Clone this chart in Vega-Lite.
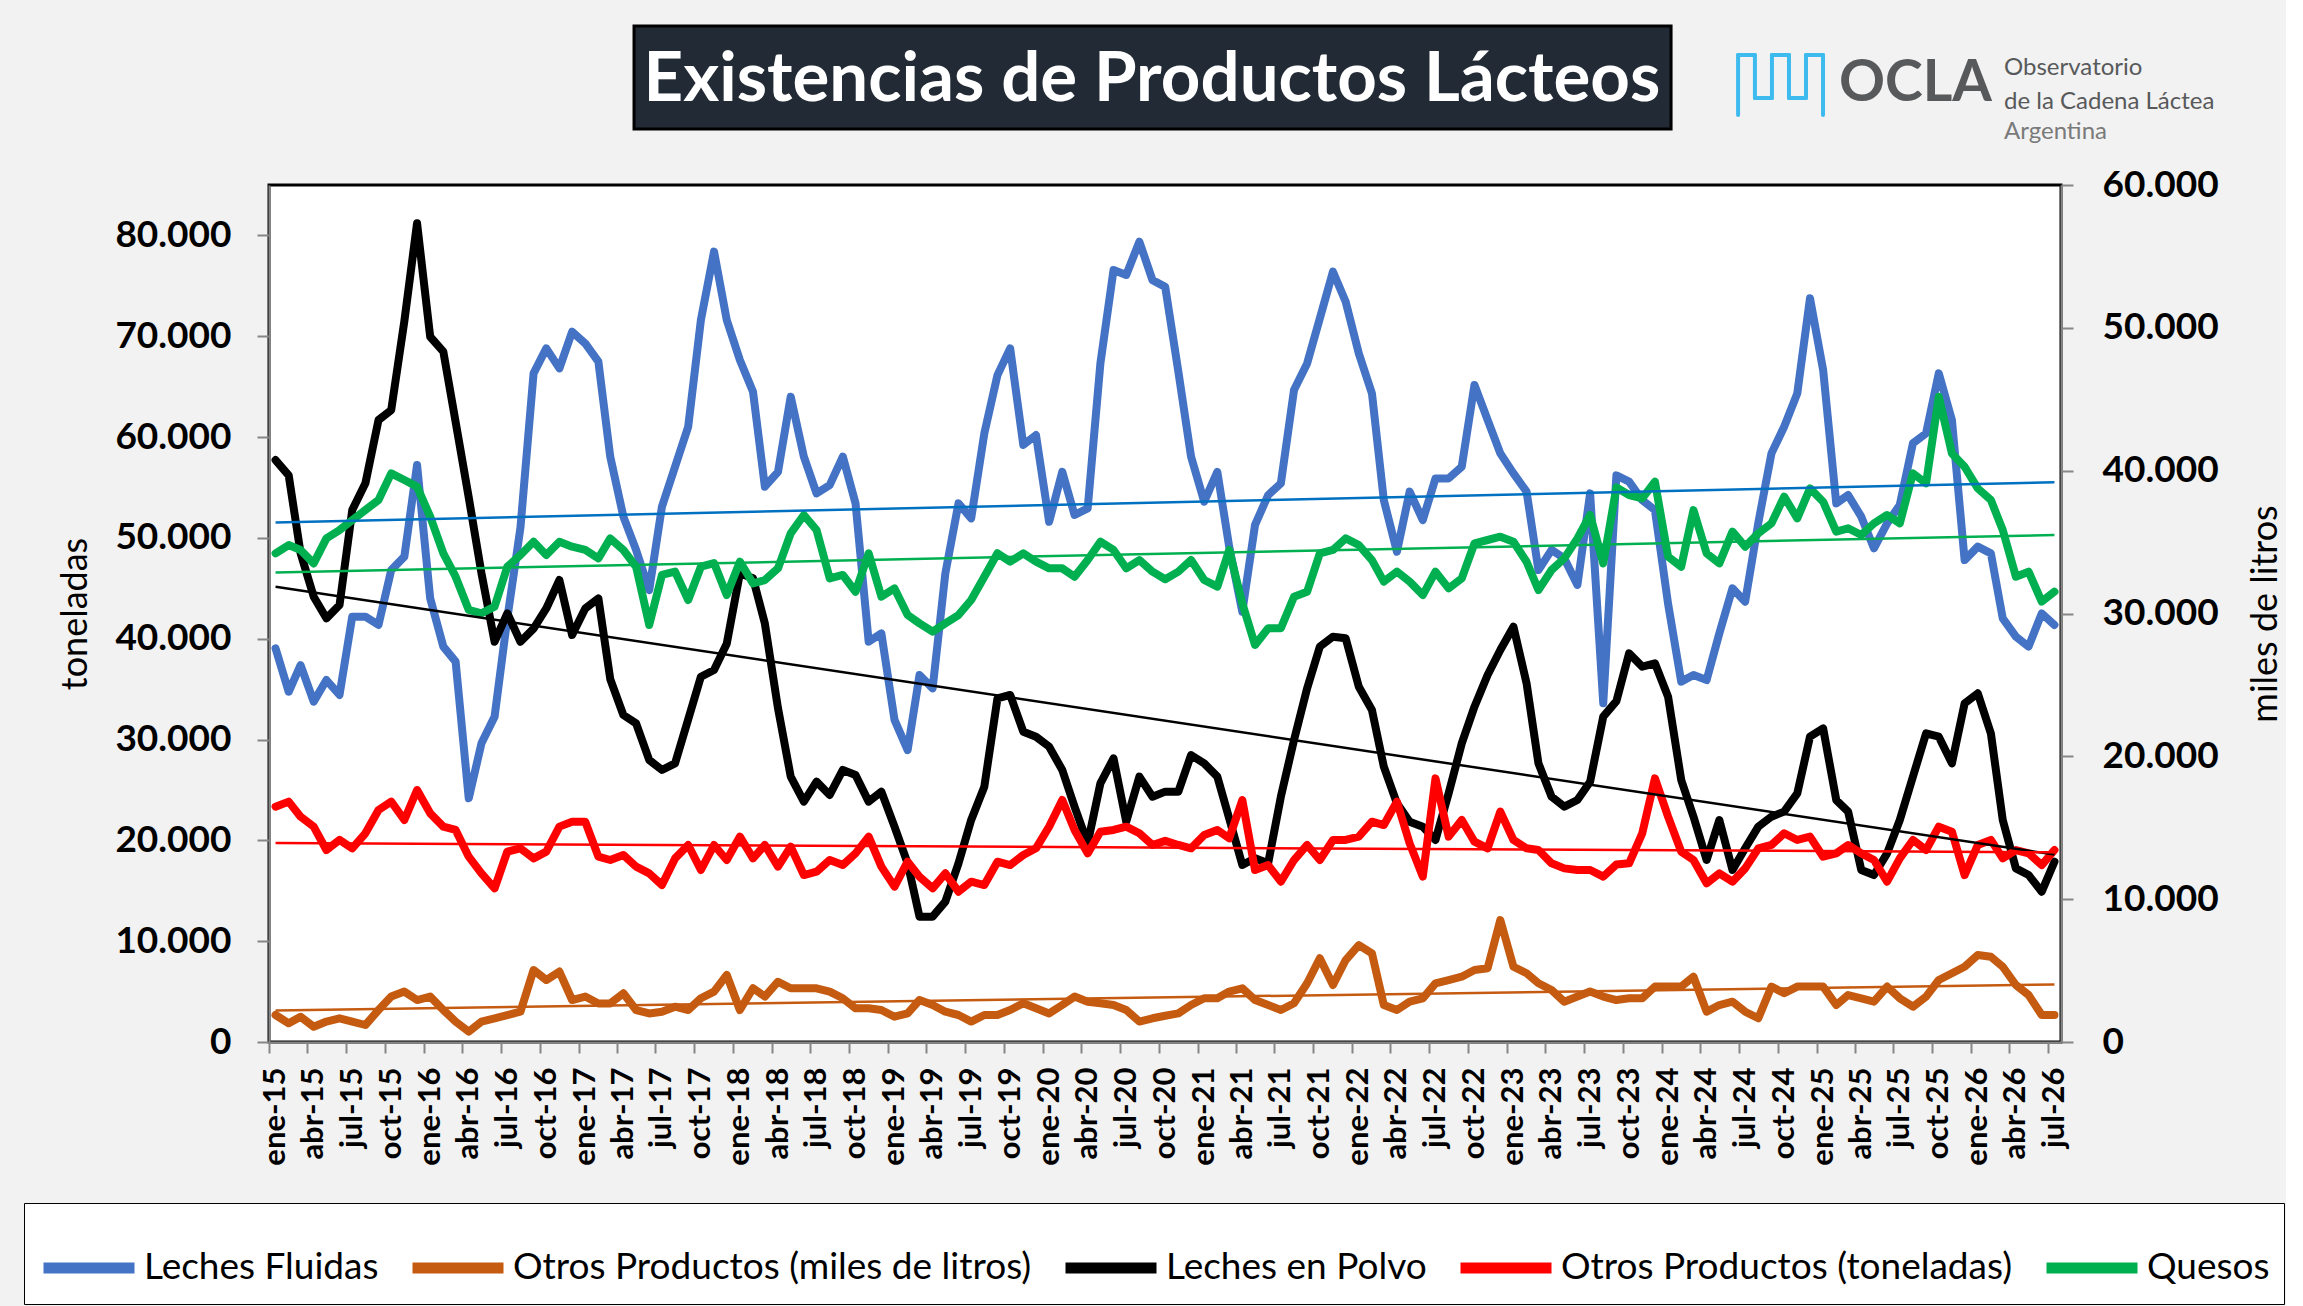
{
  "$schema": "https://vega.github.io/schema/vega-lite/v6.json",
  "description": "Existencias de Productos Lácteos (OCLA), mensual ene-15 a jul-26, dos ejes.",
  "background": "#F2F2F2",
  "padding": {"left": 22, "top": 0, "right": 0, "bottom": 0},
  "bounds": "flush",
  "spacing": 0,
  "datasets": {
    "fluidas": [
      {"mes":"2015/01/01","valor":27560},{"mes":"2015/02/01","valor":24520},{"mes":"2015/03/01","valor":26390},{"mes":"2015/04/01","valor":23830},{"mes":"2015/05/01","valor":25340},{"mes":"2015/06/01","valor":24300},{"mes":"2015/07/01","valor":29780},{"mes":"2015/08/01","valor":29780},{"mes":"2015/09/01","valor":29200},{"mes":"2015/10/01","valor":33040},{"mes":"2015/11/01","valor":33980},{"mes":"2015/12/01","valor":40400},
      {"mes":"2016/01/01","valor":31060},{"mes":"2016/02/01","valor":27680},{"mes":"2016/03/01","valor":26630},{"mes":"2016/04/01","valor":17060},{"mes":"2016/05/01","valor":20910},{"mes":"2016/06/01","valor":22780},{"mes":"2016/07/01","valor":29650},{"mes":"2016/08/01","valor":36000},{"mes":"2016/09/01","valor":46810},{"mes":"2016/10/01","valor":48560},{"mes":"2016/11/01","valor":47160},{"mes":"2016/12/01","valor":49730},
      {"mes":"2017/01/01","valor":48910},{"mes":"2017/02/01","valor":47630},{"mes":"2017/03/01","valor":40980},{"mes":"2017/04/01","valor":36780},{"mes":"2017/05/01","valor":34450},{"mes":"2017/06/01","valor":31640},{"mes":"2017/07/01","valor":37480},{"mes":"2017/08/01","valor":40280},{"mes":"2017/09/01","valor":43080},{"mes":"2017/10/01","valor":50550},{"mes":"2017/11/01","valor":55340},{"mes":"2017/12/01","valor":50550},
      {"mes":"2018/01/01","valor":47750},{"mes":"2018/02/01","valor":45530},{"mes":"2018/03/01","valor":38880},{"mes":"2018/04/01","valor":39920},{"mes":"2018/05/01","valor":45180},{"mes":"2018/06/01","valor":40980},{"mes":"2018/07/01","valor":38410},{"mes":"2018/08/01","valor":38990},{"mes":"2018/09/01","valor":40980},{"mes":"2018/10/01","valor":37710},{"mes":"2018/11/01","valor":28030},{"mes":"2018/12/01","valor":28610},
      {"mes":"2019/01/01","valor":22550},{"mes":"2019/02/01","valor":20440},{"mes":"2019/03/01","valor":25690},{"mes":"2019/04/01","valor":24760},{"mes":"2019/05/01","valor":32810},{"mes":"2019/06/01","valor":37710},{"mes":"2019/07/01","valor":36660},{"mes":"2019/08/01","valor":42610},{"mes":"2019/09/01","valor":46690},{"mes":"2019/10/01","valor":48560},{"mes":"2019/11/01","valor":41800},{"mes":"2019/12/01","valor":42490},
      {"mes":"2020/01/01","valor":36420},{"mes":"2020/02/01","valor":39920},{"mes":"2020/03/01","valor":36900},{"mes":"2020/04/01","valor":37360},{"mes":"2020/05/01","valor":47510},{"mes":"2020/06/01","valor":54050},{"mes":"2020/07/01","valor":53700},{"mes":"2020/08/01","valor":56030},{"mes":"2020/09/01","valor":53340},{"mes":"2020/10/01","valor":52870},{"mes":"2020/11/01","valor":46930},{"mes":"2020/12/01","valor":40980},
      {"mes":"2021/01/01","valor":37830},{"mes":"2021/02/01","valor":39920},{"mes":"2021/03/01","valor":34680},{"mes":"2021/04/01","valor":30130},{"mes":"2021/05/01","valor":36200},{"mes":"2021/06/01","valor":38290},{"mes":"2021/07/01","valor":39110},{"mes":"2021/08/01","valor":45640},{"mes":"2021/09/01","valor":47510},{"mes":"2021/10/01","valor":50660},{"mes":"2021/11/01","valor":53930},{"mes":"2021/12/01","valor":51830},
      {"mes":"2022/01/01","valor":48210},{"mes":"2022/02/01","valor":45410},{"mes":"2022/03/01","valor":37940},{"mes":"2022/04/01","valor":34330},{"mes":"2022/05/01","valor":38530},{"mes":"2022/06/01","valor":36540},{"mes":"2022/07/01","valor":39460},{"mes":"2022/08/01","valor":39460},{"mes":"2022/09/01","valor":40280},{"mes":"2022/10/01","valor":46000},{"mes":"2022/11/01","valor":43550},{"mes":"2022/12/01","valor":41210},
      {"mes":"2023/01/01","valor":39810},{"mes":"2023/02/01","valor":38530},{"mes":"2023/03/01","valor":33040},{"mes":"2023/04/01","valor":34450},{"mes":"2023/05/01","valor":33860},{"mes":"2023/06/01","valor":32000},{"mes":"2023/07/01","valor":38410},{"mes":"2023/08/01","valor":23710},{"mes":"2023/09/01","valor":39670},{"mes":"2023/10/01","valor":39230},{"mes":"2023/11/01","valor":37940},{"mes":"2023/12/01","valor":37240},
      {"mes":"2024/01/01","valor":30680},{"mes":"2024/02/01","valor":25230},{"mes":"2024/03/01","valor":25690},{"mes":"2024/04/01","valor":25340},{"mes":"2024/05/01","valor":28610},{"mes":"2024/06/01","valor":31760},{"mes":"2024/07/01","valor":30830},{"mes":"2024/08/01","valor":36350},{"mes":"2024/09/01","valor":41210},{"mes":"2024/10/01","valor":43080},{"mes":"2024/11/01","valor":45410},{"mes":"2024/12/01","valor":52070},
      {"mes":"2025/01/01","valor":47050},{"mes":"2025/02/01","valor":37710},{"mes":"2025/03/01","valor":38290},{"mes":"2025/04/01","valor":36780},{"mes":"2025/05/01","valor":34560},{"mes":"2025/06/01","valor":36310},{"mes":"2025/07/01","valor":37600},{"mes":"2025/08/01","valor":41920},{"mes":"2025/09/01","valor":42610},{"mes":"2025/10/01","valor":46810},{"mes":"2025/11/01","valor":43550},{"mes":"2025/12/01","valor":33740},
      {"mes":"2026/01/01","valor":34680},{"mes":"2026/02/01","valor":34210},{"mes":"2026/03/01","valor":29660},{"mes":"2026/04/01","valor":28380},{"mes":"2026/05/01","valor":27680},{"mes":"2026/06/01","valor":30010},{"mes":"2026/07/01","valor":29200}
    ],
    "otros_litros": [
      {"mes":"2015/01/01","valor":1890},{"mes":"2015/02/01","valor":1310},{"mes":"2015/03/01","valor":1770},{"mes":"2015/04/01","valor":1070},{"mes":"2015/05/01","valor":1430},{"mes":"2015/06/01","valor":1660},{"mes":"2015/07/01","valor":1430},{"mes":"2015/08/01","valor":1190},{"mes":"2015/09/01","valor":2240},{"mes":"2015/10/01","valor":3180},{"mes":"2015/11/01","valor":3530},{"mes":"2015/12/01","valor":2940},
      {"mes":"2016/01/01","valor":3180},{"mes":"2016/02/01","valor":2240},{"mes":"2016/03/01","valor":1430},{"mes":"2016/04/01","valor":730},{"mes":"2016/05/01","valor":1430},{"mes":"2016/06/01","valor":1660},{"mes":"2016/07/01","valor":1890},{"mes":"2016/08/01","valor":2120},{"mes":"2016/09/01","valor":5040},{"mes":"2016/10/01","valor":4340},{"mes":"2016/11/01","valor":4930},{"mes":"2016/12/01","valor":2940},
      {"mes":"2017/01/01","valor":3180},{"mes":"2017/02/01","valor":2700},{"mes":"2017/03/01","valor":2700},{"mes":"2017/04/01","valor":3410},{"mes":"2017/05/01","valor":2240},{"mes":"2017/06/01","valor":2000},{"mes":"2017/07/01","valor":2120},{"mes":"2017/08/01","valor":2470},{"mes":"2017/09/01","valor":2240},{"mes":"2017/10/01","valor":3060},{"mes":"2017/11/01","valor":3530},{"mes":"2017/12/01","valor":4690},
      {"mes":"2018/01/01","valor":2240},{"mes":"2018/02/01","valor":3760},{"mes":"2018/03/01","valor":3180},{"mes":"2018/04/01","valor":4220},{"mes":"2018/05/01","valor":3760},{"mes":"2018/06/01","valor":3760},{"mes":"2018/07/01","valor":3760},{"mes":"2018/08/01","valor":3530},{"mes":"2018/09/01","valor":3060},{"mes":"2018/10/01","valor":2360},{"mes":"2018/11/01","valor":2360},{"mes":"2018/12/01","valor":2240},
      {"mes":"2019/01/01","valor":1770},{"mes":"2019/02/01","valor":2000},{"mes":"2019/03/01","valor":2940},{"mes":"2019/04/01","valor":2590},{"mes":"2019/05/01","valor":2120},{"mes":"2019/06/01","valor":1890},{"mes":"2019/07/01","valor":1430},{"mes":"2019/08/01","valor":1890},{"mes":"2019/09/01","valor":1890},{"mes":"2019/10/01","valor":2240},{"mes":"2019/11/01","valor":2710},{"mes":"2019/12/01","valor":2360},
      {"mes":"2020/01/01","valor":2000},{"mes":"2020/02/01","valor":2590},{"mes":"2020/03/01","valor":3180},{"mes":"2020/04/01","valor":2820},{"mes":"2020/05/01","valor":2710},{"mes":"2020/06/01","valor":2590},{"mes":"2020/07/01","valor":2240},{"mes":"2020/08/01","valor":1430},{"mes":"2020/09/01","valor":1660},{"mes":"2020/10/01","valor":1840},{"mes":"2020/11/01","valor":2000},{"mes":"2020/12/01","valor":2590},
      {"mes":"2021/01/01","valor":3060},{"mes":"2021/02/01","valor":3060},{"mes":"2021/03/01","valor":3530},{"mes":"2021/04/01","valor":3760},{"mes":"2021/05/01","valor":2940},{"mes":"2021/06/01","valor":2590},{"mes":"2021/07/01","valor":2240},{"mes":"2021/08/01","valor":2710},{"mes":"2021/09/01","valor":4110},{"mes":"2021/10/01","valor":5860},{"mes":"2021/11/01","valor":3990},{"mes":"2021/12/01","valor":5740},
      {"mes":"2022/01/01","valor":6790},{"mes":"2022/02/01","valor":6210},{"mes":"2022/03/01","valor":2590},{"mes":"2022/04/01","valor":2240},{"mes":"2022/05/01","valor":2820},{"mes":"2022/06/01","valor":3060},{"mes":"2022/07/01","valor":4110},{"mes":"2022/08/01","valor":4340},{"mes":"2022/09/01","valor":4570},{"mes":"2022/10/01","valor":5040},{"mes":"2022/11/01","valor":5160},{"mes":"2022/12/01","valor":8540},
      {"mes":"2023/01/01","valor":5270},{"mes":"2023/02/01","valor":4810},{"mes":"2023/03/01","valor":4110},{"mes":"2023/04/01","valor":3640},{"mes":"2023/05/01","valor":2820},{"mes":"2023/06/01","valor":3180},{"mes":"2023/07/01","valor":3530},{"mes":"2023/08/01","valor":3180},{"mes":"2023/09/01","valor":2940},{"mes":"2023/10/01","valor":3060},{"mes":"2023/11/01","valor":3060},{"mes":"2023/12/01","valor":3880},
      {"mes":"2024/01/01","valor":3880},{"mes":"2024/02/01","valor":3880},{"mes":"2024/03/01","valor":4570},{"mes":"2024/04/01","valor":2120},{"mes":"2024/05/01","valor":2590},{"mes":"2024/06/01","valor":2820},{"mes":"2024/07/01","valor":2120},{"mes":"2024/08/01","valor":1660},{"mes":"2024/09/01","valor":3880},{"mes":"2024/10/01","valor":3410},{"mes":"2024/11/01","valor":3880},{"mes":"2024/12/01","valor":3880},
      {"mes":"2025/01/01","valor":3880},{"mes":"2025/02/01","valor":2590},{"mes":"2025/03/01","valor":3290},{"mes":"2025/04/01","valor":3060},{"mes":"2025/05/01","valor":2820},{"mes":"2025/06/01","valor":3880},{"mes":"2025/07/01","valor":3060},{"mes":"2025/08/01","valor":2470},{"mes":"2025/09/01","valor":3180},{"mes":"2025/10/01","valor":4340},{"mes":"2025/11/01","valor":4810},{"mes":"2025/12/01","valor":5270},
      {"mes":"2026/01/01","valor":6090},{"mes":"2026/02/01","valor":5970},{"mes":"2026/03/01","valor":5270},{"mes":"2026/04/01","valor":3990},{"mes":"2026/05/01","valor":3290},{"mes":"2026/06/01","valor":1890},{"mes":"2026/07/01","valor":1890}
    ],
    "polvo": [
      {"mes":"2015/01/01","valor":57720},{"mes":"2015/02/01","valor":56200},{"mes":"2015/03/01","valor":48500},{"mes":"2015/04/01","valor":44170},{"mes":"2015/05/01","valor":42020},{"mes":"2015/06/01","valor":43340},{"mes":"2015/07/01","valor":52760},{"mes":"2015/08/01","valor":55410},{"mes":"2015/09/01","valor":61690},{"mes":"2015/10/01","valor":62680},{"mes":"2015/11/01","valor":71500},{"mes":"2015/12/01","valor":81200},
      {"mes":"2016/01/01","valor":69950},{"mes":"2016/02/01","valor":68470},{"mes":"2016/03/01","valor":61500},{"mes":"2016/04/01","valor":54000},{"mes":"2016/05/01","valor":46500},{"mes":"2016/06/01","valor":39700},{"mes":"2016/07/01","valor":42520},{"mes":"2016/08/01","valor":39700},{"mes":"2016/09/01","valor":41000},{"mes":"2016/10/01","valor":43000},{"mes":"2016/11/01","valor":45820},{"mes":"2016/12/01","valor":40370},
      {"mes":"2017/01/01","valor":43000},{"mes":"2017/02/01","valor":44000},{"mes":"2017/03/01","valor":36000},{"mes":"2017/04/01","valor":32430},{"mes":"2017/05/01","valor":31600},{"mes":"2017/06/01","valor":27970},{"mes":"2017/07/01","valor":26980},{"mes":"2017/08/01","valor":27640},{"mes":"2017/09/01","valor":32000},{"mes":"2017/10/01","valor":36230},{"mes":"2017/11/01","valor":36900},{"mes":"2017/12/01","valor":39500},
      {"mes":"2018/01/01","valor":46500},{"mes":"2018/02/01","valor":46000},{"mes":"2018/03/01","valor":41500},{"mes":"2018/04/01","valor":33100},{"mes":"2018/05/01","valor":26320},{"mes":"2018/06/01","valor":23840},{"mes":"2018/07/01","valor":25820},{"mes":"2018/08/01","valor":24500},{"mes":"2018/09/01","valor":26980},{"mes":"2018/10/01","valor":26480},{"mes":"2018/11/01","valor":23840},{"mes":"2018/12/01","valor":24830},
      {"mes":"2019/01/01","valor":21360},{"mes":"2019/02/01","valor":17720},{"mes":"2019/03/01","valor":12430},{"mes":"2019/04/01","valor":12430},{"mes":"2019/05/01","valor":13920},{"mes":"2019/06/01","valor":17720},{"mes":"2019/07/01","valor":22020},{"mes":"2019/08/01","valor":25320},{"mes":"2019/09/01","valor":34090},{"mes":"2019/10/01","valor":34420},{"mes":"2019/11/01","valor":30780},{"mes":"2019/12/01","valor":30280},
      {"mes":"2020/01/01","valor":29290},{"mes":"2020/02/01","valor":26980},{"mes":"2020/03/01","valor":23340},{"mes":"2020/04/01","valor":19700},{"mes":"2020/05/01","valor":25650},{"mes":"2020/06/01","valor":28130},{"mes":"2020/07/01","valor":21850},{"mes":"2020/08/01","valor":26320},{"mes":"2020/09/01","valor":24330},{"mes":"2020/10/01","valor":24830},{"mes":"2020/11/01","valor":24830},{"mes":"2020/12/01","valor":28460},
      {"mes":"2021/01/01","valor":27640},{"mes":"2021/02/01","valor":26320},{"mes":"2021/03/01","valor":22180},{"mes":"2021/04/01","valor":17560},{"mes":"2021/05/01","valor":18220},{"mes":"2021/06/01","valor":17720},{"mes":"2021/07/01","valor":24330},{"mes":"2021/08/01","valor":29950},{"mes":"2021/09/01","valor":35080},{"mes":"2021/10/01","valor":39210},{"mes":"2021/11/01","valor":40200},{"mes":"2021/12/01","valor":40040},
      {"mes":"2022/01/01","valor":35240},{"mes":"2022/02/01","valor":32930},{"mes":"2022/03/01","valor":27310},{"mes":"2022/04/01","valor":23670},{"mes":"2022/05/01","valor":21850},{"mes":"2022/06/01","valor":21360},{"mes":"2022/07/01","valor":20040},{"mes":"2022/08/01","valor":24660},{"mes":"2022/09/01","valor":29620},{"mes":"2022/10/01","valor":33260},{"mes":"2022/11/01","valor":36400},{"mes":"2022/12/01","valor":38880},
      {"mes":"2023/01/01","valor":41190},{"mes":"2023/02/01","valor":35570},{"mes":"2023/03/01","valor":27640},{"mes":"2023/04/01","valor":24330},{"mes":"2023/05/01","valor":23340},{"mes":"2023/06/01","valor":24000},{"mes":"2023/07/01","valor":25820},{"mes":"2023/08/01","valor":32270},{"mes":"2023/09/01","valor":33800},{"mes":"2023/10/01","valor":38550},{"mes":"2023/11/01","valor":37230},{"mes":"2023/12/01","valor":37560},
      {"mes":"2024/01/01","valor":34250},{"mes":"2024/02/01","valor":25990},{"mes":"2024/03/01","valor":22350},{"mes":"2024/04/01","valor":18050},{"mes":"2024/05/01","valor":22020},{"mes":"2024/06/01","valor":17060},{"mes":"2024/07/01","valor":19210},{"mes":"2024/08/01","valor":21360},{"mes":"2024/09/01","valor":22350},{"mes":"2024/10/01","valor":22850},{"mes":"2024/11/01","valor":24660},{"mes":"2024/12/01","valor":30280},
      {"mes":"2025/01/01","valor":31110},{"mes":"2025/02/01","valor":24000},{"mes":"2025/03/01","valor":22850},{"mes":"2025/04/01","valor":17060},{"mes":"2025/05/01","valor":16560},{"mes":"2025/06/01","valor":18710},{"mes":"2025/07/01","valor":22020},{"mes":"2025/08/01","valor":26320},{"mes":"2025/09/01","valor":30610},{"mes":"2025/10/01","valor":30280},{"mes":"2025/11/01","valor":27640},{"mes":"2025/12/01","valor":33590},
      {"mes":"2026/01/01","valor":34580},{"mes":"2026/02/01","valor":30610},{"mes":"2026/03/01","valor":22020},{"mes":"2026/04/01","valor":17220},{"mes":"2026/05/01","valor":16560},{"mes":"2026/06/01","valor":14910},{"mes":"2026/07/01","valor":17880}
    ],
    "otros_toneladas": [
      {"mes":"2015/01/01","valor":23340},{"mes":"2015/02/01","valor":23840},{"mes":"2015/03/01","valor":22350},{"mes":"2015/04/01","valor":21360},{"mes":"2015/05/01","valor":19040},{"mes":"2015/06/01","valor":20040},{"mes":"2015/07/01","valor":19210},{"mes":"2015/08/01","valor":20700},{"mes":"2015/09/01","valor":23010},{"mes":"2015/10/01","valor":23840},{"mes":"2015/11/01","valor":22020},{"mes":"2015/12/01","valor":24990},
      {"mes":"2016/01/01","valor":22680},{"mes":"2016/02/01","valor":21360},{"mes":"2016/03/01","valor":21030},{"mes":"2016/04/01","valor":18380},{"mes":"2016/05/01","valor":16730},{"mes":"2016/06/01","valor":15240},{"mes":"2016/07/01","valor":18880},{"mes":"2016/08/01","valor":19210},{"mes":"2016/09/01","valor":18210},{"mes":"2016/10/01","valor":18880},{"mes":"2016/11/01","valor":21360},{"mes":"2016/12/01","valor":21850},
      {"mes":"2017/01/01","valor":21850},{"mes":"2017/02/01","valor":18380},{"mes":"2017/03/01","valor":18050},{"mes":"2017/04/01","valor":18550},{"mes":"2017/05/01","valor":17390},{"mes":"2017/06/01","valor":16730},{"mes":"2017/07/01","valor":15570},{"mes":"2017/08/01","valor":18210},{"mes":"2017/09/01","valor":19540},{"mes":"2017/10/01","valor":17060},{"mes":"2017/11/01","valor":19540},{"mes":"2017/12/01","valor":18050},
      {"mes":"2018/01/01","valor":20370},{"mes":"2018/02/01","valor":18210},{"mes":"2018/03/01","valor":19540},{"mes":"2018/04/01","valor":17390},{"mes":"2018/05/01","valor":19370},{"mes":"2018/06/01","valor":16560},{"mes":"2018/07/01","valor":16890},{"mes":"2018/08/01","valor":18050},{"mes":"2018/09/01","valor":17550},{"mes":"2018/10/01","valor":18710},{"mes":"2018/11/01","valor":20370},{"mes":"2018/12/01","valor":17390},
      {"mes":"2019/01/01","valor":15410},{"mes":"2019/02/01","valor":17880},{"mes":"2019/03/01","valor":16400},{"mes":"2019/04/01","valor":15240},{"mes":"2019/05/01","valor":16730},{"mes":"2019/06/01","valor":14910},{"mes":"2019/07/01","valor":15900},{"mes":"2019/08/01","valor":15570},{"mes":"2019/09/01","valor":17880},{"mes":"2019/10/01","valor":17550},{"mes":"2019/11/01","valor":18550},{"mes":"2019/12/01","valor":19210},
      {"mes":"2020/01/01","valor":21360},{"mes":"2020/02/01","valor":24000},{"mes":"2020/03/01","valor":21030},{"mes":"2020/04/01","valor":18710},{"mes":"2020/05/01","valor":20860},{"mes":"2020/06/01","valor":21030},{"mes":"2020/07/01","valor":21360},{"mes":"2020/08/01","valor":20700},{"mes":"2020/09/01","valor":19540},{"mes":"2020/10/01","valor":19950},{"mes":"2020/11/01","valor":19540},{"mes":"2020/12/01","valor":19210},
      {"mes":"2021/01/01","valor":20530},{"mes":"2021/02/01","valor":21030},{"mes":"2021/03/01","valor":20200},{"mes":"2021/04/01","valor":24000},{"mes":"2021/05/01","valor":17060},{"mes":"2021/06/01","valor":17550},{"mes":"2021/07/01","valor":15900},{"mes":"2021/08/01","valor":18050},{"mes":"2021/09/01","valor":19540},{"mes":"2021/10/01","valor":18050},{"mes":"2021/11/01","valor":20040},{"mes":"2021/12/01","valor":20040},
      {"mes":"2022/01/01","valor":20370},{"mes":"2022/02/01","valor":21850},{"mes":"2022/03/01","valor":21520},{"mes":"2022/04/01","valor":23840},{"mes":"2022/05/01","valor":19700},{"mes":"2022/06/01","valor":16400},{"mes":"2022/07/01","valor":26150},{"mes":"2022/08/01","valor":20370},{"mes":"2022/09/01","valor":22020},{"mes":"2022/10/01","valor":19870},{"mes":"2022/11/01","valor":19210},{"mes":"2022/12/01","valor":22850},
      {"mes":"2023/01/01","valor":20040},{"mes":"2023/02/01","valor":19210},{"mes":"2023/03/01","valor":19040},{"mes":"2023/04/01","valor":17720},{"mes":"2023/05/01","valor":17220},{"mes":"2023/06/01","valor":17060},{"mes":"2023/07/01","valor":17060},{"mes":"2023/08/01","valor":16400},{"mes":"2023/09/01","valor":17600},{"mes":"2023/10/01","valor":17720},{"mes":"2023/11/01","valor":20700},{"mes":"2023/12/01","valor":26150},
      {"mes":"2024/01/01","valor":22350},{"mes":"2024/02/01","valor":18880},{"mes":"2024/03/01","valor":18050},{"mes":"2024/04/01","valor":15740},{"mes":"2024/05/01","valor":16730},{"mes":"2024/06/01","valor":15900},{"mes":"2024/07/01","valor":17220},{"mes":"2024/08/01","valor":19210},{"mes":"2024/09/01","valor":19540},{"mes":"2024/10/01","valor":20700},{"mes":"2024/11/01","valor":20040},{"mes":"2024/12/01","valor":20370},
      {"mes":"2025/01/01","valor":18380},{"mes":"2025/02/01","valor":18710},{"mes":"2025/03/01","valor":19540},{"mes":"2025/04/01","valor":18710},{"mes":"2025/05/01","valor":18050},{"mes":"2025/06/01","valor":15900},{"mes":"2025/07/01","valor":18210},{"mes":"2025/08/01","valor":20040},{"mes":"2025/09/01","valor":19040},{"mes":"2025/10/01","valor":21360},{"mes":"2025/11/01","valor":20860},{"mes":"2025/12/01","valor":16560},
      {"mes":"2026/01/01","valor":19540},{"mes":"2026/02/01","valor":20040},{"mes":"2026/03/01","valor":18210},{"mes":"2026/04/01","valor":19040},{"mes":"2026/05/01","valor":18710},{"mes":"2026/06/01","valor":17550},{"mes":"2026/07/01","valor":19040}
    ],
    "quesos": [
      {"mes":"2015/01/01","valor":48470},{"mes":"2015/02/01","valor":49290},{"mes":"2015/03/01","valor":48800},{"mes":"2015/04/01","valor":47470},{"mes":"2015/05/01","valor":49950},{"mes":"2015/06/01","valor":50780},{"mes":"2015/07/01","valor":51770},{"mes":"2015/08/01","valor":52760},{"mes":"2015/09/01","valor":53760},{"mes":"2015/10/01","valor":56400},{"mes":"2015/11/01","valor":55740},{"mes":"2015/12/01","valor":55080},
      {"mes":"2016/01/01","valor":52100},{"mes":"2016/02/01","valor":48470},{"mes":"2016/03/01","valor":46150},{"mes":"2016/04/01","valor":42850},{"mes":"2016/05/01","valor":42520},{"mes":"2016/06/01","valor":43180},{"mes":"2016/07/01","valor":47140},{"mes":"2016/08/01","valor":48300},{"mes":"2016/09/01","valor":49620},{"mes":"2016/10/01","valor":48300},{"mes":"2016/11/01","valor":49620},{"mes":"2016/12/01","valor":49130},
      {"mes":"2017/01/01","valor":48800},{"mes":"2017/02/01","valor":47970},{"mes":"2017/03/01","valor":49950},{"mes":"2017/04/01","valor":48800},{"mes":"2017/05/01","valor":47140},{"mes":"2017/06/01","valor":41360},{"mes":"2017/07/01","valor":46320},{"mes":"2017/08/01","valor":46650},{"mes":"2017/09/01","valor":43840},{"mes":"2017/10/01","valor":47140},{"mes":"2017/11/01","valor":47500},{"mes":"2017/12/01","valor":44330},
      {"mes":"2018/01/01","valor":47640},{"mes":"2018/02/01","valor":45490},{"mes":"2018/03/01","valor":45820},{"mes":"2018/04/01","valor":46980},{"mes":"2018/05/01","valor":50450},{"mes":"2018/06/01","valor":52270},{"mes":"2018/07/01","valor":50780},{"mes":"2018/08/01","valor":45990},{"mes":"2018/09/01","valor":46320},{"mes":"2018/10/01","valor":44660},{"mes":"2018/11/01","valor":48470},{"mes":"2018/12/01","valor":44170},
      {"mes":"2019/01/01","valor":44990},{"mes":"2019/02/01","valor":42350},{"mes":"2019/03/01","valor":41520},{"mes":"2019/04/01","valor":40700},{"mes":"2019/05/01","valor":41520},{"mes":"2019/06/01","valor":42350},{"mes":"2019/07/01","valor":43840},{"mes":"2019/08/01","valor":46150},{"mes":"2019/09/01","valor":48470},{"mes":"2019/10/01","valor":47640},{"mes":"2019/11/01","valor":48470},{"mes":"2019/12/01","valor":47640},
      {"mes":"2020/01/01","valor":46980},{"mes":"2020/02/01","valor":46980},{"mes":"2020/03/01","valor":46150},{"mes":"2020/04/01","valor":47800},{"mes":"2020/05/01","valor":49620},{"mes":"2020/06/01","valor":48800},{"mes":"2020/07/01","valor":46980},{"mes":"2020/08/01","valor":47800},{"mes":"2020/09/01","valor":46650},{"mes":"2020/10/01","valor":45900},{"mes":"2020/11/01","valor":46650},{"mes":"2020/12/01","valor":47800},
      {"mes":"2021/01/01","valor":45820},{"mes":"2021/02/01","valor":45160},{"mes":"2021/03/01","valor":48800},{"mes":"2021/04/01","valor":43500},{"mes":"2021/05/01","valor":39380},{"mes":"2021/06/01","valor":41030},{"mes":"2021/07/01","valor":41030},{"mes":"2021/08/01","valor":44170},{"mes":"2021/09/01","valor":44660},{"mes":"2021/10/01","valor":48470},{"mes":"2021/11/01","valor":48800},{"mes":"2021/12/01","valor":49950},
      {"mes":"2022/01/01","valor":49290},{"mes":"2022/02/01","valor":47800},{"mes":"2022/03/01","valor":45660},{"mes":"2022/04/01","valor":46650},{"mes":"2022/05/01","valor":45660},{"mes":"2022/06/01","valor":44330},{"mes":"2022/07/01","valor":46650},{"mes":"2022/08/01","valor":44990},{"mes":"2022/09/01","valor":45990},{"mes":"2022/10/01","valor":49460},{"mes":"2022/11/01","valor":49790},{"mes":"2022/12/01","valor":50120},
      {"mes":"2023/01/01","valor":49620},{"mes":"2023/02/01","valor":47640},{"mes":"2023/03/01","valor":44830},{"mes":"2023/04/01","valor":46810},{"mes":"2023/05/01","valor":47970},{"mes":"2023/06/01","valor":49950},{"mes":"2023/07/01","valor":52270},{"mes":"2023/08/01","valor":47470},{"mes":"2023/09/01","valor":55000},{"mes":"2023/10/01","valor":54250},{"mes":"2023/11/01","valor":53920},{"mes":"2023/12/01","valor":55570},
      {"mes":"2024/01/01","valor":48140},{"mes":"2024/02/01","valor":47140},{"mes":"2024/03/01","valor":52760},{"mes":"2024/04/01","valor":48470},{"mes":"2024/05/01","valor":47470},{"mes":"2024/06/01","valor":50620},{"mes":"2024/07/01","valor":49130},{"mes":"2024/08/01","valor":50450},{"mes":"2024/09/01","valor":51440},{"mes":"2024/10/01","valor":54090},{"mes":"2024/11/01","valor":51940},{"mes":"2024/12/01","valor":54910},
      {"mes":"2025/01/01","valor":53590},{"mes":"2025/02/01","valor":50620},{"mes":"2025/03/01","valor":50950},{"mes":"2025/04/01","valor":50290},{"mes":"2025/05/01","valor":51440},{"mes":"2025/06/01","valor":52270},{"mes":"2025/07/01","valor":51440},{"mes":"2025/08/01","valor":56400},{"mes":"2025/09/01","valor":55410},{"mes":"2025/10/01","valor":64000},{"mes":"2025/11/01","valor":58380},{"mes":"2025/12/01","valor":57060},
      {"mes":"2026/01/01","valor":54910},{"mes":"2026/02/01","valor":53750},{"mes":"2026/03/01","valor":50780},{"mes":"2026/04/01","valor":46150},{"mes":"2026/05/01","valor":46650},{"mes":"2026/06/01","valor":43670},{"mes":"2026/07/01","valor":44660}
    ]
  },
  "vconcat": [
    {
      "width": 1792,
      "height": 185,
      "view": {"stroke": null, "fill": null},
      "data": {"values": [{}]},
      "encoding": {
        "x": {"type": "quantitative", "scale": {"domain": [0, 1], "nice": false, "zero": false}, "axis": null},
        "y": {"type": "quantitative", "scale": {"domain": [1, 0], "nice": false, "zero": false}, "axis": null}
      },
      "layer": [
        {
          "mark": {"type": "rect", "fill": "#222a35", "stroke": "#000000", "strokeWidth": 3},
          "encoding": {"x": {"datum": 0.2037}, "x2": {"datum": 0.7824}, "y": {"datum": 0.1405}, "y2": {"datum": 0.6973}}
        },
        {
          "mark": {"type": "text", "font": "Lato", "fontWeight": "bold", "fontSize": 69, "color": "#ffffff", "align": "center", "baseline": "middle"},
          "encoding": {"x": {"datum": 0.4927}, "y": {"datum": 0.43}, "text": {"value": "Existencias de Productos Lácteos"}}
        },
        {
          "mark": {"type": "rule", "color": "#3dbbef", "strokeWidth": 4, "strokeCap": "round"},
          "encoding": {"x": {"datum": 0.8198}, "y": {"datum": 0.2973}, "y2": {"datum": 0.6216}}
        },
        {
          "mark": {"type": "rule", "color": "#3dbbef", "strokeWidth": 4, "strokeCap": "round"},
          "encoding": {"x": {"datum": 0.8198}, "x2": {"datum": 0.8292}, "y": {"datum": 0.2973}}
        },
        {
          "mark": {"type": "rule", "color": "#3dbbef", "strokeWidth": 4, "strokeCap": "round"},
          "encoding": {"x": {"datum": 0.8292}, "y": {"datum": 0.2973}, "y2": {"datum": 0.5297}}
        },
        {
          "mark": {"type": "rule", "color": "#3dbbef", "strokeWidth": 4, "strokeCap": "round"},
          "encoding": {"x": {"datum": 0.8292}, "x2": {"datum": 0.8387}, "y": {"datum": 0.5297}}
        },
        {
          "mark": {"type": "rule", "color": "#3dbbef", "strokeWidth": 4, "strokeCap": "round"},
          "encoding": {"x": {"datum": 0.8387}, "y": {"datum": 0.2973}, "y2": {"datum": 0.5297}}
        },
        {
          "mark": {"type": "rule", "color": "#3dbbef", "strokeWidth": 4, "strokeCap": "round"},
          "encoding": {"x": {"datum": 0.8387}, "x2": {"datum": 0.8482}, "y": {"datum": 0.2973}}
        },
        {
          "mark": {"type": "rule", "color": "#3dbbef", "strokeWidth": 4, "strokeCap": "round"},
          "encoding": {"x": {"datum": 0.8482}, "y": {"datum": 0.2973}, "y2": {"datum": 0.5297}}
        },
        {
          "mark": {"type": "rule", "color": "#3dbbef", "strokeWidth": 4, "strokeCap": "round"},
          "encoding": {"x": {"datum": 0.8482}, "x2": {"datum": 0.8577}, "y": {"datum": 0.5297}}
        },
        {
          "mark": {"type": "rule", "color": "#3dbbef", "strokeWidth": 4, "strokeCap": "round"},
          "encoding": {"x": {"datum": 0.8577}, "y": {"datum": 0.2973}, "y2": {"datum": 0.5297}}
        },
        {
          "mark": {"type": "rule", "color": "#3dbbef", "strokeWidth": 4, "strokeCap": "round"},
          "encoding": {"x": {"datum": 0.8577}, "x2": {"datum": 0.8672}, "y": {"datum": 0.2973}}
        },
        {
          "mark": {"type": "rule", "color": "#3dbbef", "strokeWidth": 4, "strokeCap": "round"},
          "encoding": {"x": {"datum": 0.8672}, "y": {"datum": 0.2973}, "y2": {"datum": 0.6216}}
        },
        {
          "mark": {"type": "text", "font": "Lato", "fontWeight": "bold", "fontSize": 57, "color": "#58595b", "align": "left", "baseline": "middle"},
          "encoding": {"x": {"datum": 0.8761}, "y": {"datum": 0.455}, "text": {"value": "OCLA"}}
        },
        {
          "mark": {"type": "text", "font": "Lato", "fontSize": 24, "color": "#58595b", "align": "left", "baseline": "middle"},
          "encoding": {"x": {"datum": 0.9682}, "y": {"datum": 0.3676}, "text": {"value": "Observatorio"}}
        },
        {
          "mark": {"type": "text", "font": "Lato", "fontSize": 24, "color": "#58595b", "align": "left", "baseline": "middle"},
          "encoding": {"x": {"datum": 0.9682}, "y": {"datum": 0.5514}, "text": {"value": "de la Cadena Láctea"}}
        },
        {
          "mark": {"type": "text", "font": "Lato", "fontSize": 24, "color": "#7a7a7a", "align": "left", "baseline": "middle"},
          "encoding": {"x": {"datum": 0.9682}, "y": {"datum": 0.7135}, "text": {"value": "Argentina"}}
        }
      ]
    },
    {
      "width": 1792,
      "height": 857,
      "view": {"fill": "#ffffff", "stroke": "#000000", "strokeWidth": 3},
      "encoding": {
        "x": {
          "field": "mes",
          "type": "temporal",
          "scale": {"domain": [{"year": 2014, "month": 12, "date": 16, "hours": 12}, {"year": 2026, "month": 7, "date": 16, "hours": 12}]},
          "axis": {
            "title": null,
            "format": "%b-%y",
            "tickCount": {"interval": "month", "step": 3},
            "labelAngle": 270,
            "labelFont": "Lato",
            "labelFontWeight": "bold",
            "labelFontSize": 31,
            "labelColor": "#000000",
            "labelPadding": 14,
            "labelOverlap": false,
            "labelFlush": false,
            "labelBound": false,
            "tickSize": 11,
            "tickWidth": 2,
            "tickColor": "#868686",
            "tickOffset": -6.45,
            "labelOffset": 6.45,
            "domainColor": "#868686",
            "domainWidth": 2,
            "grid": false,
            "zindex": 1
          }
        }
      },
      "layer": [
        {
          "encoding": {
            "y": {
              "field": "valor",
              "type": "quantitative",
              "scale": {"domain": [0, 60000], "nice": false},
              "axis": {
                "orient": "right",
                "values": [0, 10000, 20000, 30000, 40000, 50000, 60000],
                "format": ",d",
                "title": "miles de litros",
                "titleAngle": 270,
                "titleBaseline": "top",
                "titleFont": "Lato",
                "titleFontSize": 36,
                "titleFontWeight": "normal",
                "titleColor": "#000000",
                "titlePadding": 30,
                "labelFont": "Lato",
                "labelFontSize": 37,
                "labelFontWeight": "bold",
                "labelColor": "#000000",
                "labelPadding": 29,
                "labelFlush": false,
                "tickSize": 12,
                "tickWidth": 2,
                "tickColor": "#868686",
                "domainColor": "#868686",
                "domainWidth": 2,
                "grid": false,
                "zindex": 1
              }
            }
          },
          "layer": [
            {
              "data": {"name": "fluidas", "format": {"parse": {"mes": "date"}}},
              "mark": {"type": "line", "strokeWidth": 8, "strokeJoin": "round", "strokeCap": "round"},
              "encoding": {
                "color": {
                  "datum": "Leches Fluidas",
                  "type": "nominal",
                  "scale": {
                    "domain": ["Leches Fluidas", "Otros Productos (miles de litros)", "Leches en Polvo", "Otros Productos (toneladas)", "Quesos"],
                    "range": ["#4472C4", "#C55A11", "#000000", "#FF0000", "#00B050"]
                  },
                  "legend": {
                    "title": null,
                    "orient": "none",
                    "legendX": -245,
                    "legendY": 1018,
                    "direction": "horizontal",
                    "symbolType": "stroke",
                    "symbolSize": 8281,
                    "symbolStrokeWidth": 11,
                    "labelFont": "Lato",
                    "labelFontSize": 37,
                    "labelColor": "#000000",
                    "labelLimit": 0,
                    "labelOffset": 4,
                    "columnPadding": 11,
                    "padding": 14,
                    "strokeColor": "#000000",
                    "fillColor": "#ffffff"
                  }
                }
              }
            },
            {
              "data": {"name": "otros_litros", "format": {"parse": {"mes": "date"}}},
              "mark": {"type": "line", "strokeWidth": 8, "strokeJoin": "round", "strokeCap": "round"},
              "encoding": {"color": {"datum": "Otros Productos (miles de litros)", "type": "nominal"}}
            }
          ]
        },
        {
          "encoding": {
            "y": {
              "field": "valor",
              "type": "quantitative",
              "scale": {"domain": [0, 85000], "nice": false},
              "axis": {
                "orient": "left",
                "values": [0, 10000, 20000, 30000, 40000, 50000, 60000, 70000, 80000],
                "format": ",d",
                "title": "toneladas",
                "titleFont": "Lato",
                "titleFontSize": 36,
                "titleFontWeight": "normal",
                "titleColor": "#000000",
                "titlePadding": 20,
                "labelFont": "Lato",
                "labelFontSize": 37,
                "labelFontWeight": "bold",
                "labelColor": "#000000",
                "labelPadding": 26,
                "labelFlush": false,
                "tickSize": 12,
                "tickWidth": 2,
                "tickColor": "#868686",
                "domainColor": "#868686",
                "domainWidth": 2,
                "grid": false,
                "zindex": 1
              }
            }
          },
          "layer": [
            {
              "data": {"name": "polvo", "format": {"parse": {"mes": "date"}}},
              "mark": {"type": "line", "strokeWidth": 8, "strokeJoin": "round", "strokeCap": "round"},
              "encoding": {"color": {"datum": "Leches en Polvo", "type": "nominal"}}
            },
            {
              "data": {"name": "otros_toneladas", "format": {"parse": {"mes": "date"}}},
              "mark": {"type": "line", "strokeWidth": 8, "strokeJoin": "round", "strokeCap": "round"},
              "encoding": {"color": {"datum": "Otros Productos (toneladas)", "type": "nominal"}}
            },
            {
              "data": {"name": "quesos", "format": {"parse": {"mes": "date"}}},
              "mark": {"type": "line", "strokeWidth": 8, "strokeJoin": "round", "strokeCap": "round"},
              "encoding": {"color": {"datum": "Quesos", "type": "nominal"}}
            },
            {
              "data": {"name": "polvo", "format": {"parse": {"mes": "date"}}},
              "transform": [{"regression": "valor", "on": "mes"}],
              "mark": {"type": "line", "strokeWidth": 2.5, "color": "#000000"},
              "encoding": {}
            },
            {
              "data": {"name": "otros_toneladas", "format": {"parse": {"mes": "date"}}},
              "transform": [{"regression": "valor", "on": "mes"}],
              "mark": {"type": "line", "strokeWidth": 2.5, "color": "#FF0000"},
              "encoding": {}
            },
            {
              "data": {"name": "quesos", "format": {"parse": {"mes": "date"}}},
              "transform": [{"regression": "valor", "on": "mes"}],
              "mark": {"type": "line", "strokeWidth": 2.5, "color": "#00B050"},
              "encoding": {}
            }
          ]
        },
        {
          "encoding": {
            "y": {"field": "valor", "type": "quantitative", "scale": {"domain": [0, 60000], "nice": false}, "axis": null}
          },
          "layer": [
            {
              "data": {"name": "fluidas", "format": {"parse": {"mes": "date"}}},
              "transform": [{"regression": "valor", "on": "mes"}],
              "mark": {"type": "line", "strokeWidth": 2.5, "color": "#0070C0"},
              "encoding": {}
            },
            {
              "data": {"name": "otros_litros", "format": {"parse": {"mes": "date"}}},
              "transform": [{"regression": "valor", "on": "mes"}],
              "mark": {"type": "line", "strokeWidth": 2.5, "color": "#C55A11"},
              "encoding": {}
            }
          ]
        }
      ],
      "resolve": {"scale": {"y": "independent"}}
    }
  ],
  "resolve": {"scale": {"color": "independent"}, "legend": {"color": "independent"}},
  "config": {
    "font": "Lato",
    "locale": {
      "number": {"decimal": ",", "thousands": ".", "grouping": [3], "currency": ["$", ""]},
      "time": {
        "dateTime": "%A, %e de %B de %Y, %X",
        "date": "%d/%m/%Y",
        "time": "%H:%M:%S",
        "periods": ["AM", "PM"],
        "days": ["domingo", "lunes", "martes", "miércoles", "jueves", "viernes", "sábado"],
        "shortDays": ["dom", "lun", "mar", "mié", "jue", "vie", "sáb"],
        "months": ["enero", "febrero", "marzo", "abril", "mayo", "junio", "julio", "agosto", "septiembre", "octubre", "noviembre", "diciembre"],
        "shortMonths": ["ene", "feb", "mar", "abr", "may", "jun", "jul", "ago", "sep", "oct", "nov", "dic"]
      }
    },
    "axis": {"grid": false}
  }
}
